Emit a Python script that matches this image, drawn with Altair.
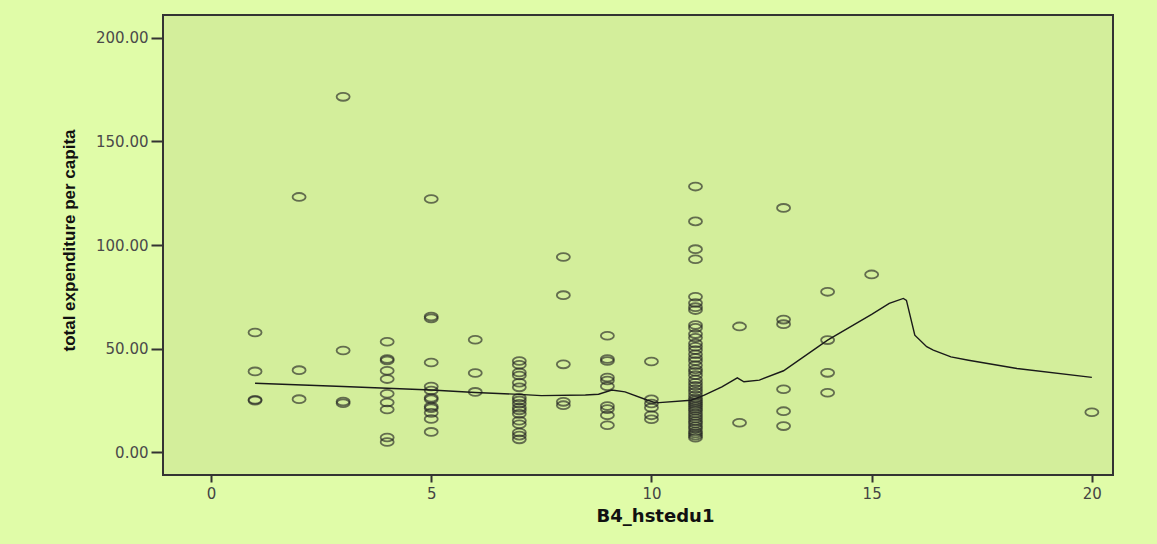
import altair as alt
import pandas as pd

# Total expenditure per capita, grouped by household head education (B4_hstedu1)
exp_by_edu = {
    1: [57.8, 39.0, 25.3, 24.9],
    2: [123.2, 39.6, 25.6],
    3: [171.5, 49.1, 24.5, 23.6],
    4: [53.3, 45.0, 44.3, 39.3, 35.3, 28.2, 24.0, 20.6, 7.1, 4.9],
    5: [122.2, 65.5, 64.6, 43.3, 31.7, 29.8, 26.3, 25.5, 22.0, 21.2, 19.0, 16.0, 9.8],
    6: [54.3, 38.2, 29.1],
    7: [44.0, 42.2, 38.5, 37.0, 33.5, 31.3, 26.3, 25.0, 23.4, 21.5, 20.2, 18.5,
        15.2, 13.5, 9.5, 8.0, 6.2],
    8: [94.2, 75.8, 42.4, 24.3, 22.7],
    9: [56.2, 45.0, 44.0, 36.0, 34.6, 31.8, 22.3, 20.8, 17.8, 13.0],
    10: [43.8, 25.5, 23.5, 21.5, 17.8, 15.9],
    11: [128.2, 111.4, 98.0, 93.1, 75.0, 72.0, 70.0, 68.6, 61.4, 60.0, 57.0, 55.2,
         52.5, 50.9, 49.3, 47.3, 45.5, 44.0, 42.0, 40.0, 38.8, 37.2, 35.1, 33.5,
         32.0, 30.5, 29.1, 27.5, 26.0, 25.0, 24.0, 23.0, 22.0, 21.0, 20.0, 18.7,
         17.5, 16.3, 15.0, 13.9, 12.5, 11.4, 10.0, 9.0, 8.0, 7.0],
    12: [60.7, 14.2],
    13: [117.9, 64.0, 61.8, 30.4, 19.8, 12.6],
    14: [77.4, 54.1, 38.3, 28.7],
    15: [85.8],
    20: [19.3],
}

# Loess fit line
fit_x = [1, 3, 5, 6, 7, 7.5, 8.5, 8.8, 9.1, 9.4, 9.9, 10.1, 10.9, 11.2, 11.6,
         11.95, 12.1, 12.45, 13.0, 14.0, 15.0, 15.4, 15.72, 15.79, 15.98, 16.25,
         16.4, 16.8, 17.2, 18.3, 20]
fit_y = [33.3, 31.7, 30.0, 28.8, 27.9, 27.3, 27.6, 28.0, 30.0, 29.1, 25.2, 23.8,
         25.1, 27.5, 31.5, 35.9, 34.0, 34.8, 39.3, 54.1, 66.5, 71.8, 74.2, 73.3,
         56.5, 50.9, 49.3, 46.0, 44.4, 40.4, 36.1]

x_ticks = [0, 5, 10, 15, 20]
y_ticks = [0, 50, 100, 150, 200]

points = pd.DataFrame(
    [{"edu": k, "exp": v} for k, vals in exp_by_edu.items() for v in vals]
)
fit = pd.DataFrame({"edu": fit_x, "exp": fit_y})

x_scale = alt.Scale(domain=[-1.09, 20.48], nice=False, zero=False)
y_scale = alt.Scale(domain=[-11, 211], nice=False, zero=False)

x_axis = alt.Axis(
    values=x_ticks, format="d", grid=False, domain=False,
    tickSize=7, tickColor="#333333", tickWidth=2,
    labelFont="DejaVu Sans", labelFontSize=15, labelColor="#444444",
    labelPadding=4, title="B4_hstedu1", titleFont="DejaVu Sans",
    titleFontSize=18, titleFontWeight="bold", titleColor="#111111",
    titleX=492, titleY=41, titleBaseline="middle", titleAlign="center",
)
y_axis = alt.Axis(
    values=y_ticks, format=".2f", grid=False, domain=False,
    tickSize=12, tickColor="#333333", tickWidth=2,
    labelFont="DejaVu Sans", labelFontSize=15, labelColor="#4a4a4a",
    labelPadding=3, title="total expenditure per capita",
    titleFont="Liberation Sans", titleFontSize=17, titleFontWeight="bold",
    titleColor="#111111", titleX=-94, titleY=225, titleAngle=270,
    titleBaseline="middle", titleAlign="center",
)

# Open ellipse marker
ellipse = "M -1 0 A 1 0.6 0 1 0 1 0 A 1 0.6 0 1 0 -1 0 Z"

scatter = alt.Chart(points).mark_point(
    shape=ellipse, size=170, filled=False, stroke="#222222",
    strokeWidth=1.8, strokeOpacity=0.9,
).encode(
    x=alt.X("edu:Q", scale=x_scale, axis=x_axis),
    y=alt.Y("exp:Q", scale=y_scale, axis=y_axis),
)

line = alt.Chart(fit).mark_line(color="#1a1a1a", strokeWidth=1.4).encode(
    x=alt.X("edu:Q", scale=x_scale),
    y=alt.Y("exp:Q", scale=y_scale),
)

chart = (
    alt.layer(scatter, line)
    .properties(
        width=950, height=460, autosize="none",
        padding={"left": 163, "top": 15, "right": 44, "bottom": 69},
        background="#e0fca8",
    )
    .configure_view(fill="#d3ee9b", stroke="#333333", strokeWidth=2)
)

chart.save("out.html", embed_options={"renderer": "svg", "actions": False})
